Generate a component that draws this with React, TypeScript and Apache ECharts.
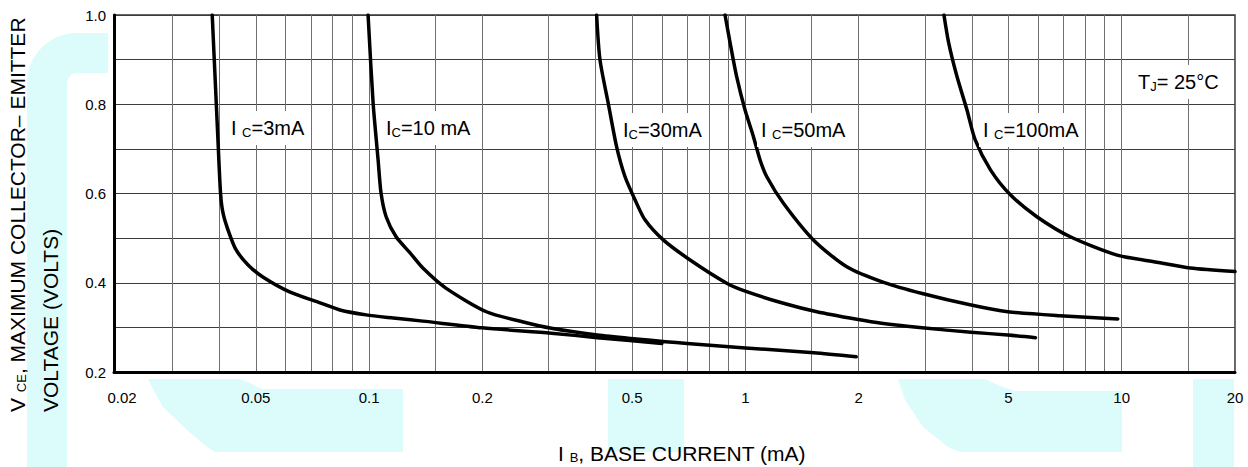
import React, { useEffect, useRef } from 'react';
import * as echarts from 'echarts';

// Axis extents (IB in mA, VCE in volts)
const X_MIN = 0.021;
const X_MAX = 20;
const Y_MIN = 0.2;
const Y_MAX = 1.0;
const Y_STEP = 0.1;

// vertical grid lines and tick labels of the log axis
const X_GRID = [0.03, 0.04, 0.05, 0.06, 0.07, 0.08, 0.09, 0.1, 0.15, 0.2, 0.3, 0.4, 0.5, 0.6, 0.7, 0.8, 0.9, 1, 1.5, 2, 3, 4, 5, 6, 7, 8, 9, 10, 15, 20];
const X_TICK_LABELS = [0.02, 0.05, 0.1, 0.2, 0.5, 1, 2, 5, 10, 20];

// IC = 3 mA
const IB_3MA = [0.0383, 0.0397, 0.0403, 0.0409, 0.0422, 0.0443, 0.0477, 0.0522, 0.0617, 0.0741, 0.0837, 0.0982, 0.116, 0.139, 0.2, 0.305, 0.404, 0.6];
const VCE_3MA = [1.0, 0.714, 0.601, 0.557, 0.518, 0.474, 0.44, 0.413, 0.379, 0.355, 0.339, 0.328, 0.321, 0.314, 0.299, 0.287, 0.277, 0.264];

// IC = 10 mA
const IB_10MA = [0.0994, 0.1025, 0.1057, 0.1076, 0.111, 0.118, 0.1285, 0.139, 0.16, 0.205, 0.257, 0.305, 0.404, 0.513, 0.613, 0.7, 1.0, 1.52, 1.97];
const VCE_10MA = [1.0, 0.803, 0.675, 0.601, 0.548, 0.503, 0.467, 0.433, 0.388, 0.335, 0.312, 0.298, 0.283, 0.274, 0.268, 0.264, 0.254, 0.243, 0.234];

// IC = 30 mA
const IB_30MA = [0.4024, 0.4107, 0.432, 0.4547, 0.4786, 0.5089, 0.541, 0.605, 0.713, 0.892, 1.008, 1.262, 1.549, 1.977, 2.3, 2.95, 3.98, 4.98, 5.9];
const VCE_30MA = [1.0, 0.9, 0.8025, 0.705, 0.638, 0.586, 0.541, 0.496, 0.451, 0.399, 0.38, 0.354, 0.335, 0.318, 0.309, 0.299, 0.289, 0.283, 0.277];

// IC = 50 mA
const IB_50MA = [0.883, 0.911, 0.948, 0.998, 1.05, 1.094, 1.139, 1.262, 1.516, 1.859, 2.33, 2.95, 3.98, 4.98, 6.84, 9.76];
const VCE_50MA = [1.0, 0.937, 0.862, 0.787, 0.728, 0.675, 0.638, 0.578, 0.496, 0.436, 0.401, 0.376, 0.35, 0.335, 0.326, 0.319];

// IC = 100 mA
const IB_100MA = [3.37, 3.47, 3.65, 3.88, 4.08, 4.48, 5.06, 5.95, 7.3, 9.72, 12.4, 15.2, 20];
const VCE_100MA = [1.0, 0.937, 0.862, 0.787, 0.72, 0.653, 0.597, 0.548, 0.503, 0.462, 0.446, 0.433, 0.425];

const FONT = '"Liberation Sans", Arial, Helvetica, sans-serif';
const CYAN = '#dcfcfc';

const lg = (v: number) => Math.log10(v);

export default function App() {
  const ref = useRef<HTMLDivElement>(null);

  useEffect(() => {
    if (!ref.current) return;
    const chart = echarts.init(ref.current, null, { renderer: 'svg' });

    const xMinL = lg(X_MIN);
    const xMaxL = lg(X_MAX);
    const clampL = (v: number) => Math.min(xMaxL, Math.max(xMinL, lg(v)));

    const defs = [
      { name: 'IC=3mA', ib: IB_3MA, v: VCE_3MA },
      { name: 'IC=10mA', ib: IB_10MA, v: VCE_10MA },
      { name: 'IC=30mA', ib: IB_30MA, v: VCE_30MA },
      { name: 'IC=50mA', ib: IB_50MA, v: VCE_50MA },
      { name: 'IC=100mA', ib: IB_100MA, v: VCE_100MA },
    ];

    const series = defs.map((d) => ({
      type: 'line',
      name: d.name,
      data: d.ib.map((x, i) => [lg(x), d.v[i]]),
      showSymbol: false,
      symbol: 'none',
      smooth: 0.25,
      lineStyle: { color: '#000', width: 3.5, cap: 'round', join: 'round' },
      itemStyle: { color: '#000' },
      silent: true,
      z: 3,
    }));

    const richMain = (size: number) => ({ fontSize: size, fontFamily: FONT, color: '#000', lineHeight: 22, verticalAlign: 'middle' });
    const richSub = (size: number) => ({ fontSize: size, fontFamily: FONT, color: '#000', lineHeight: 22, verticalAlign: 'bottom' });

    const curveLabel = (x: number, y: number, text: string) => ({
      type: 'text',
      z: 100,
      x,
      y,
      style: {
        text,
        textAlign: 'left',
        textVerticalAlign: 'middle',
        backgroundColor: '#fff',
        padding: [6, 4, 6, 4],
        rich: { n: richMain(20), s: richSub(13) },
      },
    });

    const graphic = [
      // watermark pieces (outside plot area)
      { type: 'rect', z: -10, silent: true, shape: { x: 27, y: 83, width: 40, height: 384 }, style: { fill: CYAN } },
      { type: 'rect', z: -10, silent: true, shape: { x: 77, y: 33, width: 31, height: 40 }, style: { fill: CYAN } },
      { type: 'sector', z: -10, silent: true, shape: { cx: 77, cy: 83, r0: 10, r: 50, startAngle: Math.PI, endAngle: Math.PI * 1.5, clockwise: true }, style: { fill: CYAN } },
      {
        type: 'polygon', z: -10, silent: true,
        shape: { points: [[148, 379], [240, 379], [250, 383], [262, 389], [403, 389], [403, 452], [215, 452], [207, 447], [187, 430], [163, 407], [155, 393]] },
        style: { fill: CYAN },
      },
      { type: 'rect', z: -10, silent: true, shape: { x: 608, y: 379, width: 76, height: 73 }, style: { fill: CYAN } },
      {
        type: 'polygon', z: -10, silent: true,
        shape: { points: [[898, 379], [985, 379], [1000, 386], [1015, 391], [1122, 391], [1122, 452], [960, 452], [948, 447], [923, 427], [905, 400]] },
        style: { fill: CYAN },
      },
      { type: 'rect', z: -10, silent: true, shape: { x: 1193, y: 379, width: 41, height: 88 }, style: { fill: CYAN } },

      // axis titles
      {
        type: 'text', z: 50, x: 17, y: 412, rotation: Math.PI / 2,
        style: {
          text: '{n|V }{s|CE}{n|, MAXIMUM COLLECTOR– EMITTER}',
          textAlign: 'left', textVerticalAlign: 'middle',
          rich: { n: richMain(21), s: richSub(13) },
        },
      },
      {
        type: 'text', z: 50, x: 50, y: 412, rotation: Math.PI / 2,
        style: {
          text: '{n|VOLTAGE (VOLTS)}',
          textAlign: 'left', textVerticalAlign: 'middle',
          rich: { n: richMain(21) },
        },
      },
      {
        type: 'text', z: 50, x: 558, y: 453,
        style: {
          text: '{n|I }{s|B}{n|, BASE CURRENT (mA)}',
          textAlign: 'left', textVerticalAlign: 'middle',
          rich: { n: richMain(21), s: richSub(13) },
        },
      },

      // curve labels
      curveLabel(227, 128, '{n|I }{s|C}{n|=3mA}'),
      curveLabel(382, 128, '{n|I}{s|C}{n|=10 mA}'),
      curveLabel(619, 130, '{n|I}{s|C}{n|=30mA}'),
      curveLabel(757, 130, '{n|I }{s|C}{n|=50mA}'),
      curveLabel(979, 130, '{n|I }{s|C}{n|=100mA}'),
      curveLabel(1134, 82, '{n|T}{s|J}{n|= 25°C}'),
    ];

    chart.setOption({
      animation: false,
      backgroundColor: '#fff',
      grid: {
        left: 114,
        right: 13,
        top: 15,
        bottom: 95,
        show: true,
        borderColor: '#333',
        borderWidth: 1.5,
        backgroundColor: 'transparent',
        containLabel: false,
      },
      xAxis: {
        type: 'value',
        min: xMinL,
        max: xMaxL,
        axisLine: { show: true, onZero: false, lineStyle: { color: '#000', width: 3 } },
        axisTick: { show: false, customValues: X_GRID.map(lg) },
        axisLabel: {
          customValues: X_TICK_LABELS.map(clampL),
          margin: 18,
          color: '#000',
          fontSize: 15,
          fontFamily: FONT,
          rich: {
            first: { fontSize: 15, fontFamily: FONT, color: '#000', padding: [0, 0, 0, 16] },
          },
          formatter: (val: number) => {
            let best = X_TICK_LABELS[0];
            let bd = Infinity;
            for (const t of X_TICK_LABELS) {
              const d = Math.abs(clampL(t) - val);
              if (d < bd) { bd = d; best = t; }
            }
            return best === X_TICK_LABELS[0] ? `{first|${best}}` : String(best);
          },
        },
        splitLine: { show: true, lineStyle: { color: '#6f6f6f', width: 1 } },
      },
      yAxis: {
        type: 'value',
        min: Y_MIN,
        max: Y_MAX,
        interval: Y_STEP,
        axisLine: { show: true, onZero: false, lineStyle: { color: '#000', width: 3 } },
        axisTick: { show: false },
        axisLabel: {
          margin: 8,
          color: '#000',
          fontSize: 15,
          fontFamily: FONT,
          formatter: (v: number) => {
            const k = Math.round(v * 10);
            return k % 2 === 0 ? (k / 10).toFixed(1) : '';
          },
        },
        splitLine: { show: true, lineStyle: { color: '#3c3c3c', width: 1 } },
      },
      graphic,
      series,
    });

    return () => chart.dispose();
  }, []);

  return (
    <div
      ref={ref}
      style={{ position: 'fixed', left: 0, top: 0, width: 1248, height: 467, background: '#fff' }}
    />
  );
}
